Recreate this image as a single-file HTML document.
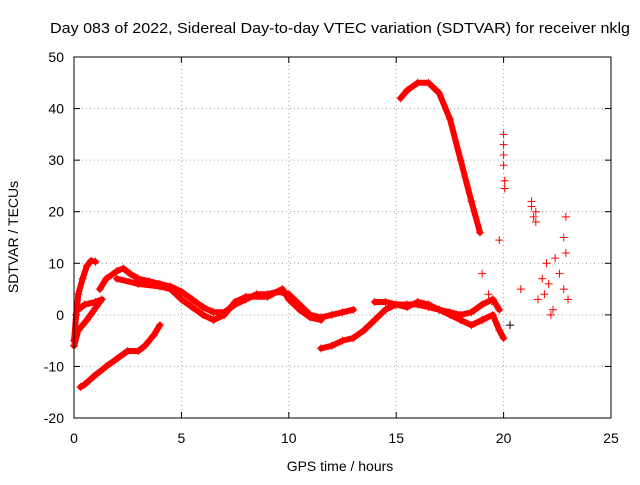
<!DOCTYPE html>
<html><head><meta charset="utf-8"><style>
body{margin:0;background:#fff;}
svg text{font-family:"Liberation Sans",sans-serif;font-size:14px;fill:#000;}
</style></head><body>
<svg id="chart" width="640" height="480">
<rect width="640" height="480" fill="#fff"/>
<text x="50" y="33" textLength="580" lengthAdjust="spacingAndGlyphs" style="font-size:15px">Day 083 of 2022, Sidereal Day-to-day VTEC variation (SDTVAR) for receiver nklg</text>
<text x="340" y="471" text-anchor="middle">GPS time / hours</text>
<text transform="translate(18,237) rotate(-90)" text-anchor="middle">SDTVAR / TECUs</text>
<g id="grid"></g><g id="marks"></g>
<rect x="74" y="57" width="537" height="361" fill="none" stroke="#000"/>
</svg>
<script>
const xTicks=[0,5,10,15,20,25];
const yTicks=[-20,-10,0,10,20,30,40,50];
const traceEarlyHump=[[0,-5],[0.1,0],[0.2,4],[0.4,7],[0.6,9.5],[0.8,10.5],[1.0,10.3]];
const traceLowRamp=[[0.3,-14],[0.5,-13.5],[0.9,-12],[1.5,-10],[2,-8.5],[2.5,-7],[3,-7],[3.3,-6],[3.7,-4],[4,-2]];
const traceShort=[[0,-6],[0.2,-3],[0.6,-1],[1.2,2.5]];
const traceShort2=[[0.2,1],[0.5,2],[1.0,2.5],[1.3,3]];
const traceMain=[[1.2,5],[1.5,7],[2,8.5],[2.3,9],[2.6,8],[3,7],[3.5,6.5],[4,6],[4.5,5.5],[5,4.5],[5.5,3],[6,1.5],[6.5,0.5],[7,0.5],[7.5,2],[8,3],[8.5,4],[9,4],[9.5,4.5],[10,4],[10.5,2],[11,0],[11.5,-0.5],[12,0],[12.5,0.5],[13,1]];
const traceSecond=[[2,7],[3,6],[4,5.5],[4.5,5],[5,3],[5.5,1.5],[6,0],[6.5,-1],[7,0],[7.5,2.5],[8,3.5],[9,3.5],[9.7,5],[10,3],[10.5,1],[11,-0.5],[11.5,-1]];
const traceLate=[[11.5,-6.5],[12,-6],[12.5,-5],[13,-4.5],[13.5,-3],[14,-1],[14.5,1],[15,2],[15.5,2],[16,2],[16.5,1.5],[17,1],[17.5,0],[18,-1],[18.5,-2],[19,-1],[19.5,0],[19.8,-3],[20,-4.5]];
const traceLate2=[[14,2.5],[14.5,2.5],[15,2],[15.5,1.5],[16,2.5],[16.5,2],[17,1],[17.5,0.5],[18,0],[18.5,0.5],[19,2],[19.5,3],[19.8,1]];
const traceBigHump=[[15.2,42],[15.5,43.5],[16,45],[16.5,45],[17,43],[17.5,38],[18,30],[18.5,22],[18.9,16]];
const scatterPts=[[19,8],[19.8,14.5],[20,35],[20,33],[20,31],[20,29],[20.05,26],[20.05,24.5],[20.8,5],[21.3,22],[21.3,21],[21.4,19],[21.5,18],[21.5,20],[21.6,3],[21.8,7],[22,10],[22.1,6],[22.3,1],[22.4,11],[22.6,8],[22.8,5],[22.8,15],[22.9,19],[22.9,12],[23,3],[21.9,4],[22.2,0],[19.3,4],[19.6,2]];
const blackPts=[[20.3,-2]];
const NS="http://www.w3.org/2000/svg";
const X0=74,X1=611,Y0=418,Y1=57;
const sx=v=>X0+(v-0)/(25-0)*(X1-X0);
const sy=v=>Y0-(v+20)/(70)*(Y0-Y1);
const grid=document.getElementById('grid'),marks=document.getElementById('marks');
function mk(tag,at,parent){const e=document.createElementNS(NS,tag);for(const k in at)e.setAttribute(k,at[k]);parent.appendChild(e);return e;}
xTicks.forEach(t=>{const x=sx(t);
 if(t>0&&t<25){const l=mk('line',{x1:x,x2:x,y1:Y0,y2:Y1,stroke:'#a0a0a0','stroke-dasharray':'1,3'},grid);
 
 }
 mk('line',{x1:x,x2:x,y1:Y0,y2:Y0-6,stroke:'#000'},grid);mk('line',{x1:x,x2:x,y1:Y1,y2:Y1+6,stroke:'#000'},grid);
 const tx=mk('text',{x:x,y:443,'text-anchor':'middle'},grid);tx.textContent=t;
 
 });
yTicks.forEach(t=>{const y=sy(t);
 if(t>-20&&t<50){const l=mk('line',{x1:X0,x2:X1,y1:y,y2:y,stroke:'#a0a0a0','stroke-dasharray':'1,3'},grid);
 
 }
 mk('line',{x1:X0,x2:X0+6,y1:y,y2:y,stroke:'#000'},grid);mk('line',{x1:X1,x2:X1-6,y1:y,y2:y,stroke:'#000'},grid);
 const tx=mk('text',{x:64,y:y+5,'text-anchor':'end'},grid);tx.textContent=t;
 
 });
function plus(p,color,name){const x=sx(p[0]),y=sy(p[1]);
 const g=mk('path',{d:`M${x-4},${y}H${x+4}M${x},${y-4}V${y+4}`,stroke:color,'stroke-width':1},marks);
 
 }
const traces=[traceEarlyHump,traceLowRamp,traceShort,traceShort2,traceMain,traceSecond,traceLate,traceLate2,traceBigHump];
traces.forEach(tr=>{
 const pl=mk('polyline',{points:tr.map(p=>sx(p[0])+','+sy(p[1])).join(' '),fill:'none',stroke:'#f00','stroke-width':6,'stroke-linejoin':'round','stroke-linecap':'round'},marks);
 
 
 tr.forEach(p=>plus(p,'#f00','sdtvar-point'));});
scatterPts.forEach(p=>plus(p,'#f00','sdtvar-point'));
blackPts.forEach(p=>plus(p,'#000','outlier-point'));
</script>
</body></html>
